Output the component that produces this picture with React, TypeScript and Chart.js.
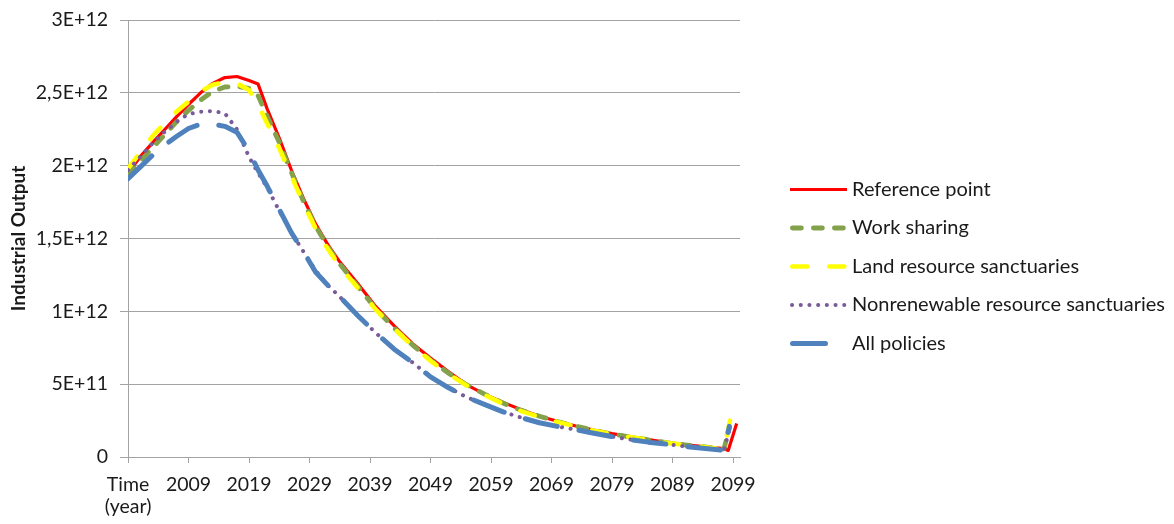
import React, { useEffect, useRef } from "react";
import { Chart, registerables } from "chart.js";

Chart.register(...registerables);

// ---- data (values in units of 1E+12) ----
const UNIT = 1e12;
const YEARS = [
  1999, 2001, 2003, 2005, 2007, 2009, 2011, 2013, 2015, 2017, 2019, 2020.5,
  2022, 2024, 2026, 2028, 2030, 2032, 2034, 2037, 2040, 2043, 2046, 2049,
  2052, 2055, 2058, 2061, 2064, 2067, 2070, 2073, 2076, 2079, 2082, 2085,
  2088, 2091, 2094, 2097.5,
];

const REFERENCE = [
  1.95, 2.06, 2.155, 2.245, 2.335, 2.42, 2.5, 2.565, 2.605, 2.612, 2.585, 2.56,
  2.39, 2.19, 1.97, 1.775, 1.6, 1.46, 1.34, 1.19, 1.03, 0.9, 0.78, 0.68,
  0.585, 0.495, 0.43, 0.375, 0.325, 0.28, 0.245, 0.213, 0.185, 0.16, 0.14, 0.12,
  0.1, 0.085, 0.072, 0.058,
];
const REFERENCE_END_YEARS = [2098.2, 2099.6];
const REFERENCE_END = [0.045, 0.23];

const WORK_SHARING = [
  1.94, 2.03, 2.12, 2.21, 2.3, 2.38, 2.45, 2.51, 2.54, 2.545, 2.53, 2.48,
  2.34, 2.16, 1.955, 1.755, 1.585, 1.445, 1.325, 1.17, 1.015, 0.885, 0.77, 0.665,
  0.575, 0.495, 0.43, 0.37, 0.32, 0.28, 0.243, 0.212, 0.183, 0.158, 0.138, 0.118,
  0.099, 0.084, 0.071, 0.056,
];
const WORK_SHARING_END_YEARS = [2098.4];
const WORK_SHARING_END = [0.2];

const LAND = [
  1.98, 2.09, 2.2, 2.29, 2.37, 2.44, 2.51, 2.555, 2.575, 2.565, 2.52, 2.42,
  2.29, 2.12, 1.93, 1.74, 1.57, 1.43, 1.31, 1.16, 1.01, 0.88, 0.765, 0.66,
  0.57, 0.49, 0.425, 0.365, 0.315, 0.275, 0.24, 0.21, 0.18, 0.157, 0.137, 0.117,
  0.098, 0.083, 0.07, 0.052,
];
const LAND_END_YEARS = [2098.5];
const LAND_END = [0.25];

const NONRENEWABLE = [
  1.97, 2.06, 2.15, 2.23, 2.3, 2.355, 2.37, 2.375, 2.36, 2.25, 2.06, 1.95,
  1.85, 1.69, 1.54, 1.41, 1.28, 1.18, 1.1, 0.97, 0.85, 0.74, 0.65, 0.55,
  0.475, 0.41, 0.36, 0.31, 0.27, 0.235, 0.21, 0.188, 0.163, 0.14, 0.12, 0.102,
  0.088, 0.073, 0.06, 0.048,
];
const NONRENEWABLE_END_YEARS = [2098.4];
const NONRENEWABLE_END = [0.19];

const ALL_POLICIES = [
  1.91, 1.99, 2.07, 2.14, 2.2, 2.255, 2.285, 2.285, 2.27, 2.23, 2.1, 1.97,
  1.86, 1.7, 1.54, 1.41, 1.27, 1.18, 1.1, 0.97, 0.85, 0.74, 0.65, 0.55,
  0.475, 0.41, 0.36, 0.31, 0.27, 0.235, 0.21, 0.188, 0.163, 0.14, 0.12, 0.102,
  0.088, 0.073, 0.06, 0.045,
];
const ALL_POLICIES_END_YEARS = [2098.4];
const ALL_POLICIES_END = [0.21];

const SERIES_NAMES = [
  "Reference point",
  "Work sharing",
  "Land resource sanctuaries",
  "Nonrenewable resource sanctuaries",
  "All policies",
];
const X_TICKS = [1999, 2009, 2019, 2029, 2039, 2049, 2059, 2069, 2079, 2089, 2099];
const FIRST_TICK_LABEL = ["Time", "(year)"];
const Y_TITLE = "Industrial Output";

// ---- styles ----
const FONT = "Lato";
const TEXT_COLOR = "#1a1a1a";
const GRID_COLOR = "#a3a3a3";

function points(values: number[], endYears: number[], endValues: number[]) {
  const pts = YEARS.map((x, i) => ({ x, y: values[i] * UNIT }));
  endYears.forEach((x, i) => pts.push({ x, y: endValues[i] * UNIT }));
  return pts;
}

function formatY(v: number): string {
  if (v === 0) return "0";
  const e = Math.floor(Math.log10(v) + 1e-9);
  const m = Math.round((v / Math.pow(10, e)) * 10) / 10;
  return `${String(m).replace(".", ",")}E+${e}`;
}

const overlayPlugin = {
  id: "overlay",
  afterDraw(chart: any) {
    const ctx = chart.ctx as CanvasRenderingContext2D;
    const area = chart.chartArea;
    ctx.save();
    // y-axis title
    ctx.save();
    ctx.translate(11, (area.top + area.bottom) / 2);
    ctx.rotate(-Math.PI / 2);
    ctx.font = `bold 19px ${FONT}`;
    ctx.fillStyle = TEXT_COLOR;
    ctx.textAlign = "center";
    ctx.textBaseline = "middle";
    ctx.fillText(Y_TITLE, 0, 0);
    ctx.restore();
    // legend
    const x0 = 782;
    const x1 = 839;
    const textX = 844;
    const top = 181.5;
    const step = 38.5;
    chart.data.datasets.forEach((ds: any, i: number) => {
      const y = top + i * step;
      const lw = ds.borderWidth;
      ctx.save();
      ctx.strokeStyle = ds.borderColor;
      ctx.lineWidth = lw;
      ctx.lineCap = ds.borderCapStyle || "butt";
      ctx.setLineDash(ds.borderDash || []);
      ctx.beginPath();
      const off = ctx.lineCap === "round" ? lw / 2 : 0;
      ctx.moveTo(x0 + off, y);
      ctx.lineTo(x1 - off, y);
      ctx.stroke();
      ctx.restore();
      ctx.font = `20px ${FONT}`;
      ctx.fillStyle = TEXT_COLOR;
      ctx.textAlign = "left";
      ctx.textBaseline = "middle";
      ctx.fillText(ds.label, textX, y);
    });
    ctx.restore();
  },
};

export default function App() {
  const canvasRef = useRef<HTMLCanvasElement | null>(null);

  useEffect(() => {
    if (!canvasRef.current) return;
    const common = { pointRadius: 0, tension: 0, fill: false, borderJoinStyle: "round" as const };
    const chart = new Chart(canvasRef.current, {
      type: "line",
      data: {
        datasets: [
          {
            ...common,
            label: SERIES_NAMES[0],
            data: points(REFERENCE, REFERENCE_END_YEARS, REFERENCE_END),
            borderColor: "#ff0000",
            borderWidth: 3.2,
            borderCapStyle: "butt",
            order: 5,
          },
          {
            ...common,
            label: SERIES_NAMES[1],
            data: points(WORK_SHARING, WORK_SHARING_END_YEARS, WORK_SHARING_END),
            borderColor: "#84a14b",
            borderWidth: 4.8,
            borderDash: [9, 12],
            borderCapStyle: "round",
            order: 4,
          },
          {
            ...common,
            label: SERIES_NAMES[2],
            data: points(LAND, LAND_END_YEARS, LAND_END),
            borderColor: "#ffff00",
            borderWidth: 4.6,
            borderDash: [15, 22],
            borderCapStyle: "round",
            order: 3,
          },
          {
            ...common,
            label: SERIES_NAMES[3],
            data: points(NONRENEWABLE, NONRENEWABLE_END_YEARS, NONRENEWABLE_END),
            borderColor: "#7a5b9a",
            borderWidth: 4,
            borderDash: [0.1, 8.6],
            borderCapStyle: "round",
            order: 2,
          },
          {
            ...common,
            label: SERIES_NAMES[4],
            data: points(ALL_POLICIES, ALL_POLICIES_END_YEARS, ALL_POLICIES_END),
            borderColor: "#4f81bd",
            borderWidth: 5,
            borderDash: [33, 22],
            borderCapStyle: "round",
            order: 1,
          },
        ],
      },
      options: {
        animation: false,
        responsive: true,
        maintainAspectRatio: false,
        layout: { padding: { top: 12, right: 426, bottom: 0, left: 0 } },
        plugins: {
          legend: { display: false },
          tooltip: { enabled: false },
          title: { display: false },
        },
        scales: {
          x: {
            type: "linear",
            min: 1999,
            max: 2100.15,
            afterBuildTicks: (scale: any) => {
              scale.ticks = X_TICKS.map((v) => ({ value: v }));
            },
            afterFit: (scale: any) => {
              scale.height = 59;
            },
            ticks: {
              autoSkip: false,
              maxRotation: 0,
              minRotation: 0,
              padding: 10,
              color: TEXT_COLOR,
              font: { family: FONT, size: 19.5, lineHeight: 1.16 },
              callback: (v: any) => (v === X_TICKS[0] ? FIRST_TICK_LABEL : String(v)),
            },
            grid: {
              drawOnChartArea: false,
              drawTicks: true,
              tickLength: 6,
              color: GRID_COLOR,
            },
            border: { color: GRID_COLOR, width: 1 },
          },
          y: {
            min: 0,
            max: 3 * UNIT,
            afterFit: (scale: any) => {
              scale.width = 120;
              scale.paddingTop = 0;
              scale.paddingBottom = 0;
            },
            ticks: {
              stepSize: 0.5 * UNIT,
              padding: 12,
              color: TEXT_COLOR,
              font: { family: FONT, size: 19.5, lineHeight: 1.2 },
              callback: (v: any) => formatY(Number(v)),
            },
            grid: {
              color: GRID_COLOR,
              tickLength: 8,
              lineWidth: 1,
            },
            border: { color: GRID_COLOR, width: 1 },
          },
        },
      },
      plugins: [overlayPlugin],
    });
    return () => chart.destroy();
  }, []);

  return (
    <div style={{ position: "relative", width: "100%", height: 508 }}>
      <canvas ref={canvasRef} />
    </div>
  );
}
